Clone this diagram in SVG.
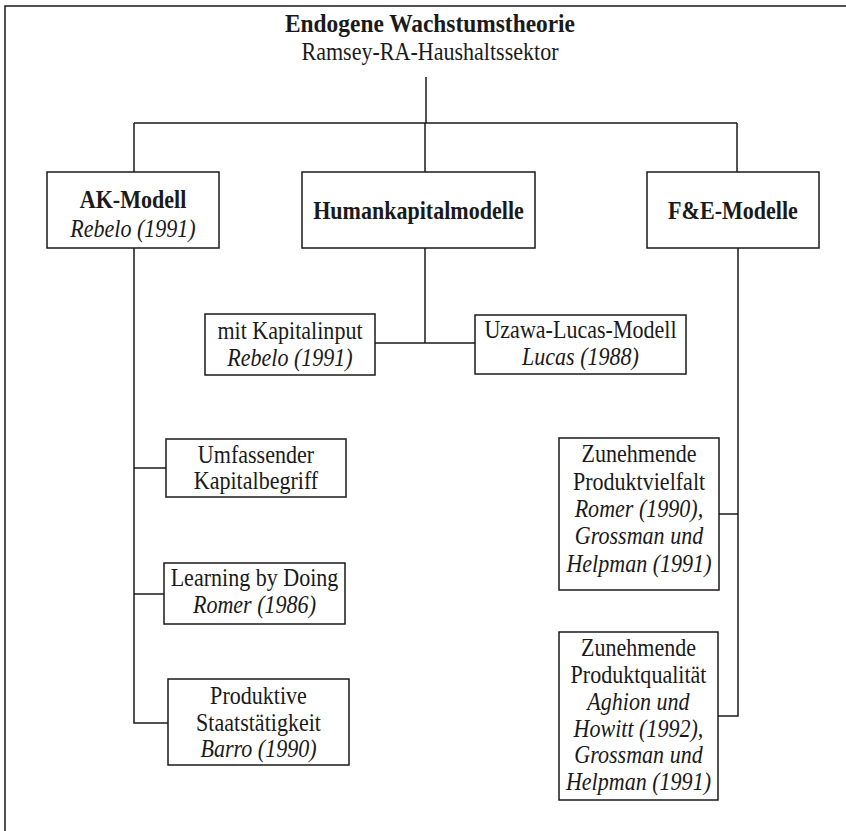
<svg xmlns="http://www.w3.org/2000/svg" width="846" height="831" viewBox="0 0 846 831">
<style>
  text { font-family: "Liberation Serif", "Times New Roman", serif; font-size: 24.5px; fill: #1a1a1a; text-anchor: middle; transform-box: fill-box; transform-origin: center; transform: scaleX(0.9); }
  .b { font-weight: bold; }
  .i { font-style: italic; }
  .t { font-size: 26px; font-weight: bold; }
  rect { fill: #fff; stroke: #1a1a1a; stroke-width: 1.5; }
  .ln { fill: none; stroke: #1a1a1a; stroke-width: 1.5; }
</style>
<rect x="0" y="0" width="846" height="831" style="fill:#fff;stroke:none"/>
<g id="frame">
  <path class="ln" d="M5 831 V6 H846"/>
</g>
<g id="title">
  <text class="t" x="430" y="32">Endogene Wachstumstheorie</text>
  <text x="430" y="60">Ramsey-RA-Haushaltssektor</text>
</g>
<g id="connectors">
  <path class="ln" d="M426 77 V123"/>
  <path class="ln" d="M134 123 H737"/>
  <path class="ln" d="M134 123 V172"/>
  <path class="ln" d="M425 123 V172"/>
  <path class="ln" d="M737 123 V172"/>
  <path class="ln" d="M134 248 V723 H168"/>
  <path class="ln" d="M134 468 H166"/>
  <path class="ln" d="M134 594 H164"/>
  <path class="ln" d="M425 248 V343"/>
  <path class="ln" d="M375 343 H475"/>
  <path class="ln" d="M738 248 V716 H718"/>
  <path class="ln" d="M738 514 H719"/>
</g>
<g id="ak">
  <rect x="47" y="172" width="172" height="76"/>
  <text class="b" x="133" y="208">AK-Modell</text>
  <text class="i" x="133" y="237">Rebelo (1991)</text>
</g>
<g id="humankapital">
  <rect x="302" y="172" width="233" height="76"/>
  <text class="b" x="418.5" y="219">Humankapitalmodelle</text>
</g>
<g id="fe">
  <rect x="647" y="172" width="172" height="76"/>
  <text class="b" x="733" y="219">F&amp;E-Modelle</text>
</g>
<g id="kapitalinput">
  <rect x="205" y="314" width="170" height="61"/>
  <text x="290" y="339">mit Kapitalinput</text>
  <text class="i" x="290" y="366">Rebelo (1991)</text>
</g>
<g id="uzawa">
  <rect x="475" y="315" width="211" height="59"/>
  <text x="580.5" y="338">Uzawa-Lucas-Modell</text>
  <text class="i" x="580.5" y="365">Lucas (1988)</text>
</g>
<g id="umfassend">
  <rect x="166" y="439" width="180" height="58"/>
  <text x="256" y="463">Umfassender</text>
  <text x="256" y="489">Kapitalbegriff</text>
</g>
<g id="learning">
  <rect x="164" y="563" width="181" height="61"/>
  <text x="254.5" y="586">Learning by Doing</text>
  <text class="i" x="254.5" y="613">Romer (1986)</text>
</g>
<g id="staat">
  <rect x="168" y="679" width="181" height="86"/>
  <text x="258.5" y="704">Produktive</text>
  <text x="258.5" y="731">Staatstätigkeit</text>
  <text class="i" x="258.5" y="757">Barro (1990)</text>
</g>
<g id="vielfalt">
  <rect x="559" y="438" width="160" height="152"/>
  <text x="639" y="462">Zunehmende</text>
  <text x="639" y="490">Produktvielfalt</text>
  <text class="i" x="639" y="517">Romer (1990),</text>
  <text class="i" x="639" y="544">Grossman und</text>
  <text class="i" x="639" y="572">Helpman (1991)</text>
</g>
<g id="qualitaet">
  <rect x="559" y="632" width="159" height="168"/>
  <text x="638.5" y="656">Zunehmende</text>
  <text x="638.5" y="683">Produktqualität</text>
  <text class="i" x="638.5" y="710">Aghion und</text>
  <text class="i" x="638.5" y="737">Howitt (1992),</text>
  <text class="i" x="638.5" y="763">Grossman und</text>
  <text class="i" x="638.5" y="790">Helpman (1991)</text>
</g>
</svg>
